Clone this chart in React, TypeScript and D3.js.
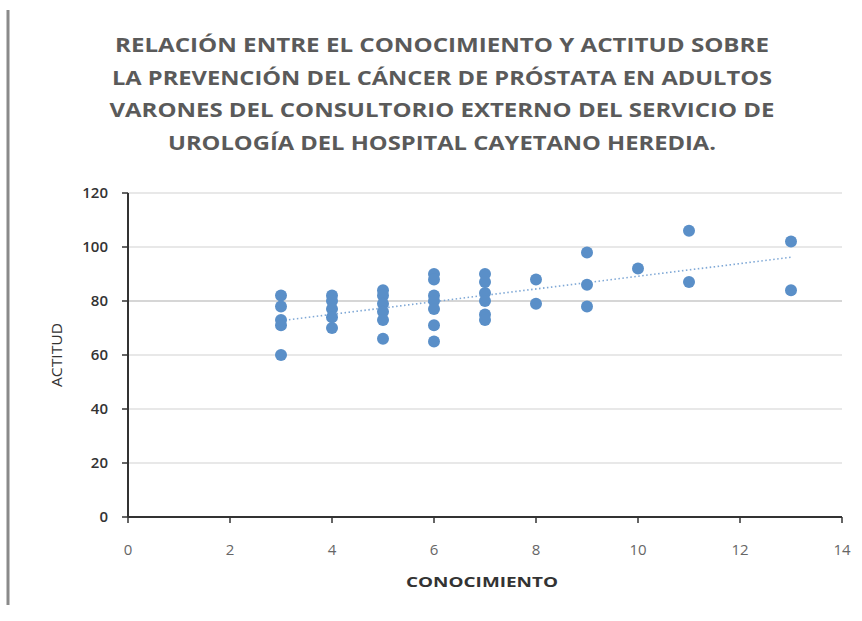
import React from "react";
import * as d3 from "d3";

const conocimiento = [3,3,3,3,3, 4,4,4,4,4, 5,5,5,5,5,5, 6,6,6,6,6,6,6, 7,7,7,7,7,7, 8,8, 9,9,9, 10, 11,11, 13,13];
const actitud = [82,78,73,71,60, 82,80,77,74,70, 84,82,79,76,73,66, 90,88,82,80,77,71,65, 90,87,83,80,75,73, 88,79, 98,86,78, 92, 106,87, 102,84];
const xTicks = [0,2,4,6,8,10,12,14];
const yTicks = [0,20,40,60,80,100,120];
const titleLines = [
  "RELACIÓN ENTRE EL CONOCIMIENTO Y ACTITUD SOBRE",
  "LA PREVENCIÓN DEL CÁNCER DE PRÓSTATA EN ADULTOS",
  "VARONES DEL CONSULTORIO EXTERNO DEL SERVICIO DE",
  "UROLOGÍA DEL HOSPITAL CAYETANO HEREDIA.",
];
const titleWidths = [654, 660, 665, 548];

export default function App() {
  const W = 862, H = 621;
  const x = d3.scaleLinear().domain([0, 14]).range([128, 842]);
  const y = d3.scaleLinear().domain([0, 120]).range([517, 193]);
  const pts = conocimiento.map((c, i) => [c, actitud[i]] as [number, number]);
  const mx = d3.mean(conocimiento)!, my = d3.mean(actitud)!;
  let sxy = 0, sxx = 0;
  pts.forEach(([a, b]) => { sxy += (a - mx) * (b - my); sxx += (a - mx) ** 2; });
  const slope = sxy / sxx, icp = my - slope * mx;
  const x0 = d3.min(conocimiento)!, x1 = d3.max(conocimiento)!;
  const font = "Open Sans, Lato, sans-serif";
  return (
    <svg width={W} height={H} style={{ position: "absolute", left: 0, top: 0, background: "#fff" }}>
      <rect x={0} y={0} width={W} height={H} fill="#fff" />
      <line x1={8} x2={8} y1={10} y2={605} stroke="#8a8a8a" strokeWidth={3} />
      {titleLines.map((t, i) => (
        <text key={i} x={442} y={52 + i * 32.5} textAnchor="middle" fontFamily={font} fontWeight={700}
          fontSize={19} fill="#5a5a5a" textLength={titleWidths[i]} lengthAdjust="spacingAndGlyphs">{t}</text>
      ))}
      {yTicks.filter(v => v > 0).map(v => (
        <line key={v} x1={x(0)} x2={x(14)} y1={y(v)} y2={y(v)} stroke={v === 80 ? "#c8c8c8" : "#e0e0e0"} strokeWidth={1.5} />
      ))}
      <line x1={x(x0)} x2={x(x1)} y1={y(icp + slope * x0)} y2={y(icp + slope * x1)}
        stroke="#7fa8d6" strokeWidth={1.6} strokeDasharray="1.5,2.5" />
      {pts.map(([a, b], i) => (
        <circle key={i} cx={x(a)} cy={y(b)} r={6} fill="#5a8fc8" />
      ))}
      <line x1={x(0)} x2={x(0)} y1={y(120)} y2={y(0)} stroke="#333" strokeWidth={2} />
      <line x1={x(0)} x2={x(14)} y1={y(0)} y2={y(0)} stroke="#333" strokeWidth={2} />
      {yTicks.map(v => (
        <g key={v}>
          <line x1={x(0) - 6} x2={x(0)} y1={y(v)} y2={y(v)} stroke="#333" strokeWidth={1.5} />
          <text x={108} y={y(v) + 5} textAnchor="end" fontFamily={font} fontSize={15} fontWeight={600} fill="#333">{v}</text>
        </g>
      ))}
      {xTicks.map(v => (
        <g key={v}>
          <line x1={x(v)} x2={x(v)} y1={y(0)} y2={y(0) + 6} stroke="#333" strokeWidth={1.5} />
          <text x={x(v)} y={555} textAnchor="middle" fontFamily={font} fontSize={15} fill="#666">{v}</text>
        </g>
      ))}
      <text x={482} y={587} textAnchor="middle" fontFamily={font} fontSize={14} fontWeight={700} fill="#333"
        textLength={152} lengthAdjust="spacingAndGlyphs">CONOCIMIENTO</text>
      <text transform={`translate(62,355) rotate(-90)`} textAnchor="middle" fontFamily={font} fontSize={14}
        fill="#333" textLength={64} lengthAdjust="spacingAndGlyphs">ACTITUD</text>
    </svg>
  );
}
